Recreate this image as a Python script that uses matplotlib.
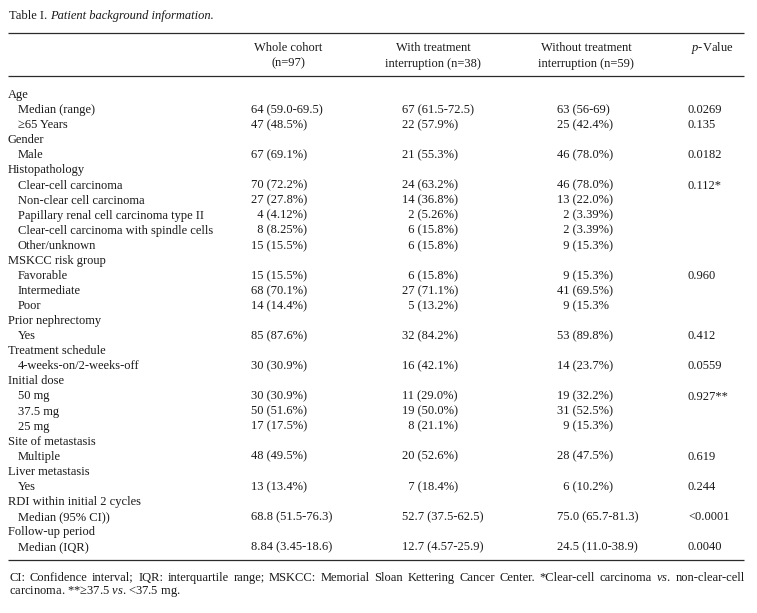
import matplotlib
matplotlib.use("Agg")
import matplotlib.pyplot as plt

plt.rcParams.update({
    "font.family": "Liberation Serif",
    "mathtext.fontset": "custom",
    "mathtext.rm": "Liberation Serif",
    "mathtext.it": "Liberation Serif:italic",
})

# ── table content ────────────────────────────────────────────────────────────
TITLE_PREFIX = "Table I. "
TITLE_ITALIC = "Patient background information."

HEADERS = ["Whole cohort\n(n=97)",
           "With treatment\ninterruption (n=38)",
           "Without treatment\ninterruption (n=59)",
           r"$\mathit{p}$-Value"]

ROW_LABELS = [
    "Age", "Median (range)", "\u226565 Years",
    "Gender", "Male",
    "Histopathology", "Clear-cell carcinoma", "Non-clear cell carcinoma",
    "Papillary renal cell carcinoma type II",
    "Clear-cell carcinoma with spindle cells", "Other/unknown",
    "MSKCC risk group", "Favorable", "Intermediate", "Poor",
    "Prior nephrectomy", "Yes",
    "Treatment schedule", "4-weeks-on/2-weeks-off",
    "Initial dose", "50 mg", "37.5 mg", "25 mg",
    "Site of metastasis", "Multiple",
    "Liver metastasis", "Yes",
    "RDI within initial 2 cycles", "Median (95% CI))",
    "Follow-up period", "Median (IQR)",
]
WHOLE = [
    "", "64 (59.0-69.5)", "47 (48.5%)",
    "", "67 (69.1%)",
    "", "70 (72.2%)", "27 (27.8%)", "4 (4.12%)", "8 (8.25%)", "15 (15.5%)",
    "", "15 (15.5%)", "68 (70.1%)", "14 (14.4%)",
    "", "85 (87.6%)",
    "", "30 (30.9%)",
    "", "30 (30.9%)", "50 (51.6%)", "17 (17.5%)",
    "", "48 (49.5%)",
    "", "13 (13.4%)",
    "", "68.8 (51.5-76.3)",
    "", "8.84 (3.45-18.6)",
]
WITH_INT = [
    "", "67 (61.5-72.5)", "22 (57.9%)",
    "", "21 (55.3%)",
    "", "24 (63.2%)", "14 (36.8%)", "2 (5.26%)", "6 (15.8%)", "6 (15.8%)",
    "", "6 (15.8%)", "27 (71.1%)", "5 (13.2%)",
    "", "32 (84.2%)",
    "", "16 (42.1%)",
    "", "11 (29.0%)", "19 (50.0%)", "8 (21.1%)",
    "", "20 (52.6%)",
    "", "7 (18.4%)",
    "", "52.7 (37.5-62.5)",
    "", "12.7 (4.57-25.9)",
]
WITHOUT_INT = [
    "", "63 (56-69)", "25 (42.4%)",
    "", "46 (78.0%)",
    "", "46 (78.0%)", "13 (22.0%)", "2 (3.39%)", "2 (3.39%)", "9 (15.3%)",
    "", "9 (15.3%)", "41 (69.5%)", "9 (15.3%",
    "", "53 (89.8%)",
    "", "14 (23.7%)",
    "", "19 (32.2%)", "31 (52.5%)", "9 (15.3%)",
    "", "28 (47.5%)",
    "", "6 (10.2%)",
    "", "75.0 (65.7-81.3)",
    "", "24.5 (11.0-38.9)",
]
P_VALUES = [
    "", "0.0269", "0.135",
    "", "0.0182",
    "", "0.112*", "", "", "", "",
    "", "0.960", "", "",
    "", "0.412",
    "", "0.0559",
    "", "0.927**", "", "",
    "", "0.619",
    "", "0.244",
    "", "<0.0001",
    "", "0.0040",
]

FOOT_1 = ("CI: Confidence interval; IQR: interquartile range; MSKCC: Memorial Sloan "
          "Kettering Cancer Center. *Clear-cell carcinoma $\\mathit{vs}$. non-clear-cell")
FOOT_2 = "carcinoma. **\u226537.5 $\\mathit{vs}$. <37.5 mg."

# ── layout (pixel coordinates) ──────────────────────────────────────────────
W, H = 757, 613
FS = 9.0
INK = "#1a1a1a"
COL_X = [251, 402, 557, 688]
HEAD_X = [288, 433, 586, 712]
ROW_Y0, ROW_DY = 94.5, 15.07
BASE = 3.6          # centre line -> baseline offset, px

fig = plt.figure(figsize=(W / 100, H / 100), dpi=100)
ax = fig.add_axes([0, 0, 1, 1])
ax.set_xlim(0, W)
ax.set_ylim(H, 0)
ax.axis("off")


def put(x, y, s, **kw):
    return ax.text(x, y + BASE, s, fontsize=FS, color=INK, va="baseline", **kw)


# title
t = put(9, 15.5, TITLE_PREFIX)
fig.canvas.draw()
put(9 + t.get_window_extent().width, 15.5, TITLE_ITALIC, style="italic")

# rules
for y in (32.5, 76, 559.5):
    ax.plot([8, 744], [y, y], color="#2b2b2b", lw=0.9, solid_capstyle="butt")

# header
for hx, h in zip(HEAD_X, HEADERS):
    for k, line in enumerate(h.split("\n")):
        put(hx, 47 + 16 * k, line, ha="center")


# body
def pad(s):
    # single-digit counts sit under the units digit of the column
    head = s.split(" ")[0]
    if s and len(head) == 1:
        return "  " + s
    return s


for i, label in enumerate(ROW_LABELS):
    y = ROW_Y0 + i * ROW_DY
    is_group = not (WHOLE[i] or WITH_INT[i] or WITHOUT_INT[i] or P_VALUES[i])
    put(8 if is_group else 18, y, label)
    for cx, col in zip(COL_X, (WHOLE, WITH_INT, WITHOUT_INT, P_VALUES)):
        if col[i]:
            put(cx, y, pad(col[i]))

# footnote, first line justified to the rule width
words = FOOT_1.split(" ")
arts = [put(0, 577, w) for w in words]
fig.canvas.draw()
widths = [a.get_window_extent().width for a in arts]
x0, x1 = 9, 745
gap = (x1 - x0 - sum(widths)) / (len(words) - 1)
xx = x0
for a, wd in zip(arts, widths):
    a.set_x(xx)
    xx += wd + gap
put(9, 590, FOOT_2)

fig.savefig("out.png", dpi=100)
